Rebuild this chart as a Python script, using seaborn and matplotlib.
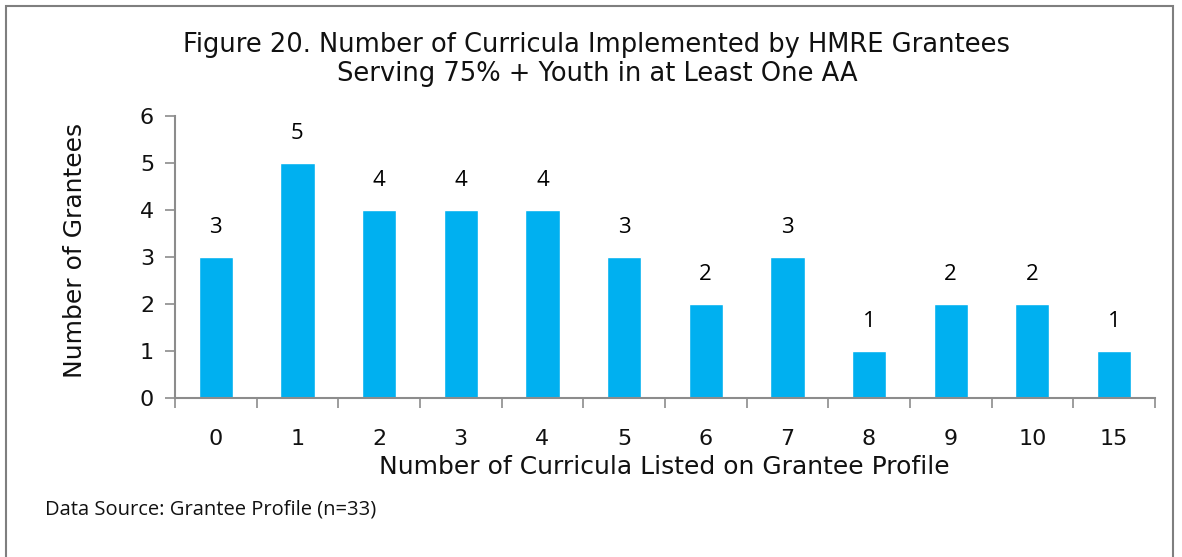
import matplotlib
matplotlib.use("Agg")
import matplotlib.pyplot as plt
import pandas as pd
import seaborn as sns
from matplotlib.patches import Rectangle

#################################################################################################
#   Chart Data
#################################################################################################
curricula = ["0", "1", "2", "3", "4", "5", "6", "7", "8", "9", "10", "15"]
grantees = [3, 5, 4, 4, 4, 3, 2, 3, 1, 2, 2, 1]

title_text = "Figure 20. Number of Curricula Implemented by HMRE Grantees\nServing 75% + Youth in at Least One AA"
x_label = "Number of Curricula Listed on Grantee Profile"
y_label = "Number of Grantees"
source_note = "Data Source: Grantee Profile (n=33)"

BarColor = "#00B0F0"
AxisGray = "#8C8C8C"
TextColor = "#111111"


def main():
    df = pd.DataFrame({"Curricula": curricula, "Grantees": grantees})

    sns.set_style("white")
    plt.rcParams["font.family"] = ["DejaVu Sans"]

    fig = plt.figure(figsize=(11.82, 5.57), dpi=100)
    ax = fig.add_axes([0.148, 0.2855, 0.829, 0.5062])

    sns.barplot(data=df, x="Curricula", y="Grantees", order=curricula,
                color=BarColor, saturation=1, width=0.42, ax=ax)

    # value labels above each bar
    for i, v in enumerate(grantees):
        ax.annotate(str(v), (i, v), xytext=(0, 21), textcoords="offset points",
                    ha="center", va="center", fontsize=16,
                    family=["Open Sans", "DejaVu Sans"], color="#000000")

    ax.set_ylim(0, 6)
    ax.set_xlim(-0.5, len(curricula) - 0.5)
    ax.set_yticks(range(0, 7))
    ax.tick_params(axis="y", labelsize=16, length=7, width=1.2, color=AxisGray,
                   left=True, pad=8, labelcolor=TextColor)
    ax.set_xticks(range(len(curricula)))
    ax.set_xticklabels(curricula)
    ax.tick_params(axis="x", labelsize=16, length=0, pad=22, labelcolor=TextColor)
    # x ticks at the category boundaries
    ax.set_xticks([i - 0.5 for i in range(len(curricula) + 1)], minor=True)
    ax.tick_params(axis="x", which="minor", length=7, width=1.2, color=AxisGray, bottom=True)

    ax.set_xlabel(x_label, fontsize=18, color=TextColor, va="center")
    ax.xaxis.set_label_coords(0.499, -0.245)
    ax.set_ylabel(y_label, fontsize=18, color=TextColor, va="center")
    ax.yaxis.set_label_coords(-0.102, 0.525)

    sns.despine(ax=ax)
    for side in ["left", "bottom"]:
        ax.spines[side].set_color(AxisGray)
        ax.spines[side].set_linewidth(1.5)

    fig.text(0.505, 0.894, title_text, ha="center", va="center", fontsize=18.5,
             linespacing=1.15, color=TextColor)
    fig.text(0.038, 0.085, source_note, ha="left", va="center", fontsize=14.5,
             family=["Open Sans", "DejaVu Sans"], color=TextColor)

    # thin gray frame round the figure
    fig.patches.append(Rectangle((0.005, -0.1), 0.987, 1.09, transform=fig.transFigure,
                                 fill=False, edgecolor="#7F7F7F", linewidth=1.5))

    fig.savefig("out.png", dpi=100)


if __name__ == "__main__":
    main()
